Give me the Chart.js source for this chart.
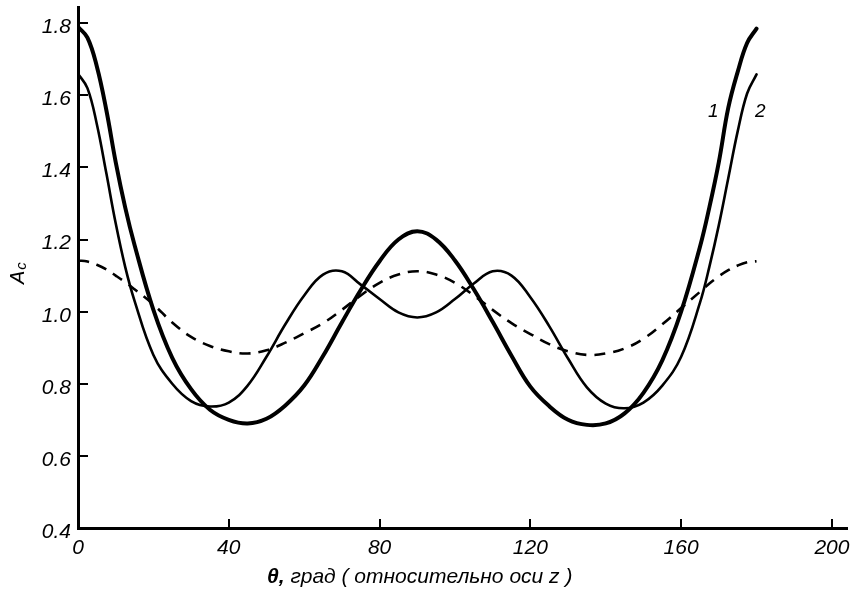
<!DOCTYPE html>
<html>
<head>
<meta charset="utf-8">
<script src="https://cdn.jsdelivr.net/npm/chart.js@4.4.1/dist/chart.umd.min.js"></script>
<style>
html,body{margin:0;padding:0;background:#fff;}
#wrap{width:850px;height:591px;}
</style>
</head>
<body>
<div id="wrap"><canvas id="c" width="850" height="591"></canvas></div>
<script>
// ---- data ----
const thetaDeg = [0,2.5,5,7.5,10,12.5,15,20,25,30,35,40,45,50,55,60,65,70,75,80,85,90,95,100,105,110,115,120,125,130,135,140,145,150,155,160,165,167.5,170,172.5,175,177.5,180];
const curve1 = [1.790,1.760,1.680,1.560,1.415,1.290,1.185,1.005,0.872,0.785,0.728,0.700,0.690,0.703,0.740,0.795,0.877,0.970,1.060,1.140,1.200,1.223,1.200,1.142,1.062,0.972,0.878,0.792,0.738,0.700,0.686,0.690,0.718,0.775,0.865,1.000,1.180,1.290,1.415,1.565,1.665,1.745,1.785];
const curve2 = [1.660,1.620,1.520,1.385,1.245,1.125,1.030,0.880,0.800,0.752,0.737,0.748,0.795,0.875,0.965,1.045,1.103,1.112,1.075,1.035,0.998,0.984,0.998,1.035,1.078,1.112,1.100,1.040,0.960,0.870,0.790,0.745,0.732,0.748,0.795,0.875,1.025,1.125,1.240,1.370,1.500,1.605,1.658];
const curve3 = [1.142,1.139,1.130,1.117,1.100,1.082,1.062,1.020,0.970,0.930,0.905,0.890,0.884,0.893,0.914,0.940,0.968,1.005,1.045,1.080,1.103,1.112,1.103,1.080,1.045,1.005,0.968,0.938,0.910,0.890,0.880,0.884,0.898,0.925,0.965,1.010,1.055,1.078,1.098,1.115,1.128,1.137,1.140];
const xTickValues = [0,40,80,120,160,200];
const yTickValues = [0.4,0.6,0.8,1.0,1.2,1.4,1.6,1.8];
const xTitleLead = 'θ,';
const xTitleRest = ' град ( относительно оси z )';
const yTitleMain = 'A';
const yTitleSub = 'c';
const curveLabelText = ['1','2'];
const curveLabelTheta = [168.5,181];
const curveLabelValue = [1.555,1.555];

const FONT = '"Liberation Sans", Arial, sans-serif';

const pts = arr => thetaDeg.map((t,i)=>({x:t,y:arr[i]}));

const extras = {
  id:'extras',
  afterDraw(chart){
    const ctx = chart.ctx, ca = chart.chartArea;
    const xs = chart.scales.x, ys = chart.scales.y;
    ctx.save();
    ctx.strokeStyle = '#000';
    ctx.lineWidth = 2;
    // inward tick marks
    yTickValues.forEach(v=>{
      if (v === yTickValues[0]) return;
      const py = Math.round(ys.getPixelForValue(v));
      ctx.beginPath(); ctx.moveTo(ca.left, py); ctx.lineTo(ca.left+10, py); ctx.stroke();
    });
    xTickValues.forEach(v=>{
      if (v === xTickValues[0]) return;
      const px = Math.round(xs.getPixelForValue(v));
      ctx.beginPath(); ctx.moveTo(px, ca.bottom); ctx.lineTo(px, ca.bottom-9); ctx.stroke();
    });
    ctx.fillStyle = '#000';
    // curve labels
    ctx.font = 'italic 19px ' + FONT;
    ctx.textAlign = 'center'; ctx.textBaseline = 'middle';
    curveLabelText.forEach((t,i)=>{
      ctx.fillText(t, xs.getPixelForValue(curveLabelTheta[i]), ys.getPixelForValue(curveLabelValue[i]));
    });
    // x title
    ctx.textAlign = 'left'; ctx.textBaseline = 'alphabetic';
    ctx.font = 'bold italic 21px ' + FONT;
    const x0 = 267, yb = 583;
    ctx.fillText(xTitleLead, x0, yb);
    const w0 = ctx.measureText(xTitleLead).width;
    ctx.font = 'italic 21px ' + FONT;
    ctx.fillText(xTitleRest, x0 + w0, yb);
    // y title
    ctx.translate(24, 284);
    ctx.rotate(-Math.PI/2);
    ctx.font = 'italic 20px ' + FONT;
    ctx.fillText(yTitleMain, 0, 0);
    const wa = ctx.measureText(yTitleMain).width;
    ctx.font = 'italic 15px ' + FONT;
    ctx.fillText(yTitleSub, wa + 1, 2);
    ctx.restore();
  }
};

new Chart(document.getElementById('c'), {
  type:'line',
  data:{
    datasets:[
      {data:pts(curve1), borderColor:'#000', borderWidth:4, pointRadius:0, tension:0.4, borderCapStyle:'round', fill:false},
      {data:pts(curve2), borderColor:'#000', borderWidth:2.6, pointRadius:0, tension:0.4, borderCapStyle:'round', fill:false},
      {data:pts(curve3), borderColor:'#000', borderWidth:2.6, pointRadius:0, tension:0.4, borderDash:[11,8], fill:false}
    ]
  },
  options:{
    responsive:false,
    devicePixelRatio:1,
    animation:false,
    events:[],
    layout:{padding:{top:7,right:3,left:0,bottom:0}},
    plugins:{legend:{display:false}, tooltip:{enabled:false}, title:{display:false}},
    scales:{
      x:{
        type:'linear', min:0, max:204,
        afterBuildTicks:s=>{ s.ticks = xTickValues.map(v=>({value:v})); },
        afterFit:s=>{ s.height = 63; s.paddingLeft = 0; s.paddingRight = 0; },
        grid:{display:false, drawTicks:false, tickLength:0},
        border:{display:true, color:'#000', width:3},
        ticks:{color:'#000', font:{family:FONT, size:21, style:'italic'}, padding:8, maxRotation:0, autoSkip:false, callback:v=>String(v)}
      },
      y:{
        type:'linear', min:0.4, max:1.845,
        afterBuildTicks:s=>{ s.ticks = yTickValues.map(v=>({value:v})); },
        afterFit:s=>{ s.width = 78; s.paddingTop = 0; s.paddingBottom = 0; },
        grid:{display:false, drawTicks:false, tickLength:0},
        border:{display:true, color:'#000', width:3},
        ticks:{color:'#000', font:{family:FONT, size:21, style:'italic'}, padding:7, labelOffset:4, autoSkip:false, callback:v=>Number(v).toFixed(1)}
      }
    }
  },
  plugins:[extras]
});
</script>
</body>
</html>
